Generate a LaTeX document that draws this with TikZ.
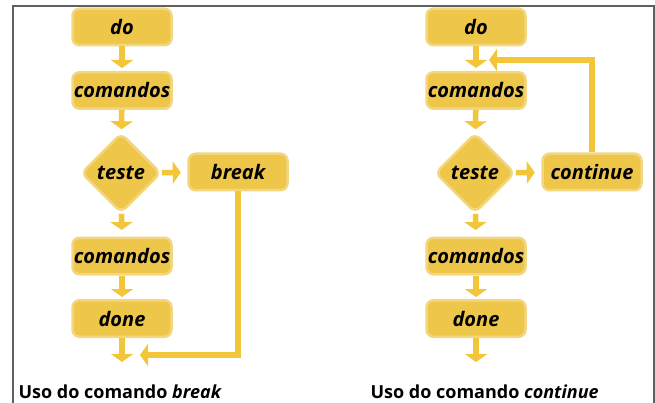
\documentclass[tikz,border=0pt]{standalone}
\usepackage{fontspec}
\setmainfont{Open Sans}
\usetikzlibrary{shapes.geometric,arrows.meta}
\definecolor{boxyellow}{RGB}{238,198,74}
\definecolor{flowyellow}{RGB}{243,197,56}
\definecolor{framegray}{RGB}{96,96,96}

\begin{document}
\begin{tikzpicture}[x=1pt,y=-1pt,
  cmd/.style={fill=boxyellow,draw=boxyellow!70!white,line width=2.5pt,rounded corners=7pt,
    minimum width=99pt,minimum height=36.5pt,inner sep=0pt,
    font=\fontsize{20}{22}\selectfont\bfseries\itshape},
  test/.style={cmd,diamond,minimum width=80pt,minimum height=80pt},
  flow/.style={draw=flowyellow,line width=5.5pt,-{Triangle[width=22pt,length=8pt]}},
  caption/.style={anchor=base west,font=\fontsize{18}{20}\selectfont\bfseries}]
  \useasboundingbox (0,0) rectangle (655,403);
  \draw[color=framegray,line width=1.2pt] (13,403) -- (13,6) -- (654,6) -- (654,403);

  \node[cmd] (doL) at (122,27) {do};
  \node[cmd] (cmdL) at (122,90.5) {comandos};
  \node[test] (testL) at (121,173) {teste};
  \node[cmd] (brk) at (238,172) {break};
  \node[cmd] (cmdLL) at (122,256) {comandos};
  \node[cmd] (doneL) at (122,318.5) {done};
  \coordinate (endL) at (122,362);
  \coordinate (joinL) at (140,355);

  \draw[flow,shorten >=3pt] (doL) -- (cmdL);
  \draw[flow,shorten >=3pt] (cmdL) -- (testL);
  \draw[flow,shorten >=6.5pt] (testL) -- (brk);
  \draw[flow,shorten >=6.5pt] (testL) -- (cmdLL);
  \draw[flow,shorten >=2pt] (cmdLL) -- (doneL);
  \draw[flow] (doneL) -- (endL);
  \draw[flow] (brk) |- (joinL);

  \node[cmd] (doR) at (476,27) {do};
  \node[cmd] (cmdR) at (476,90.5) {comandos};
  \node[test] (testR) at (475,173) {teste};
  \node[cmd] (cont) at (592,172) {continue};
  \node[cmd] (cmdRR) at (476,256) {comandos};
  \node[cmd] (doneR) at (476,318.5) {done};
  \coordinate (endR) at (476,362);
  \coordinate (joinR) at (489,60);

  \draw[flow,shorten >=3pt] (doR) -- (cmdR);
  \draw[flow,shorten >=3pt] (cmdR) -- (testR);
  \draw[flow,shorten >=6.5pt] (testR) -- (cont);
  \draw[flow,shorten >=6.5pt] (testR) -- (cmdRR);
  \draw[flow,shorten >=2pt] (cmdRR) -- (doneR);
  \draw[flow] (doneR) -- (endR);
  \draw[flow] (cont) |- (joinR);

  \node[caption] (capL) at (15,398) {Uso do comando \textit{break}};
  \node[caption] (capR) at (367,398) {Uso do comando \textit{continue}};
\end{tikzpicture}
\end{document}
